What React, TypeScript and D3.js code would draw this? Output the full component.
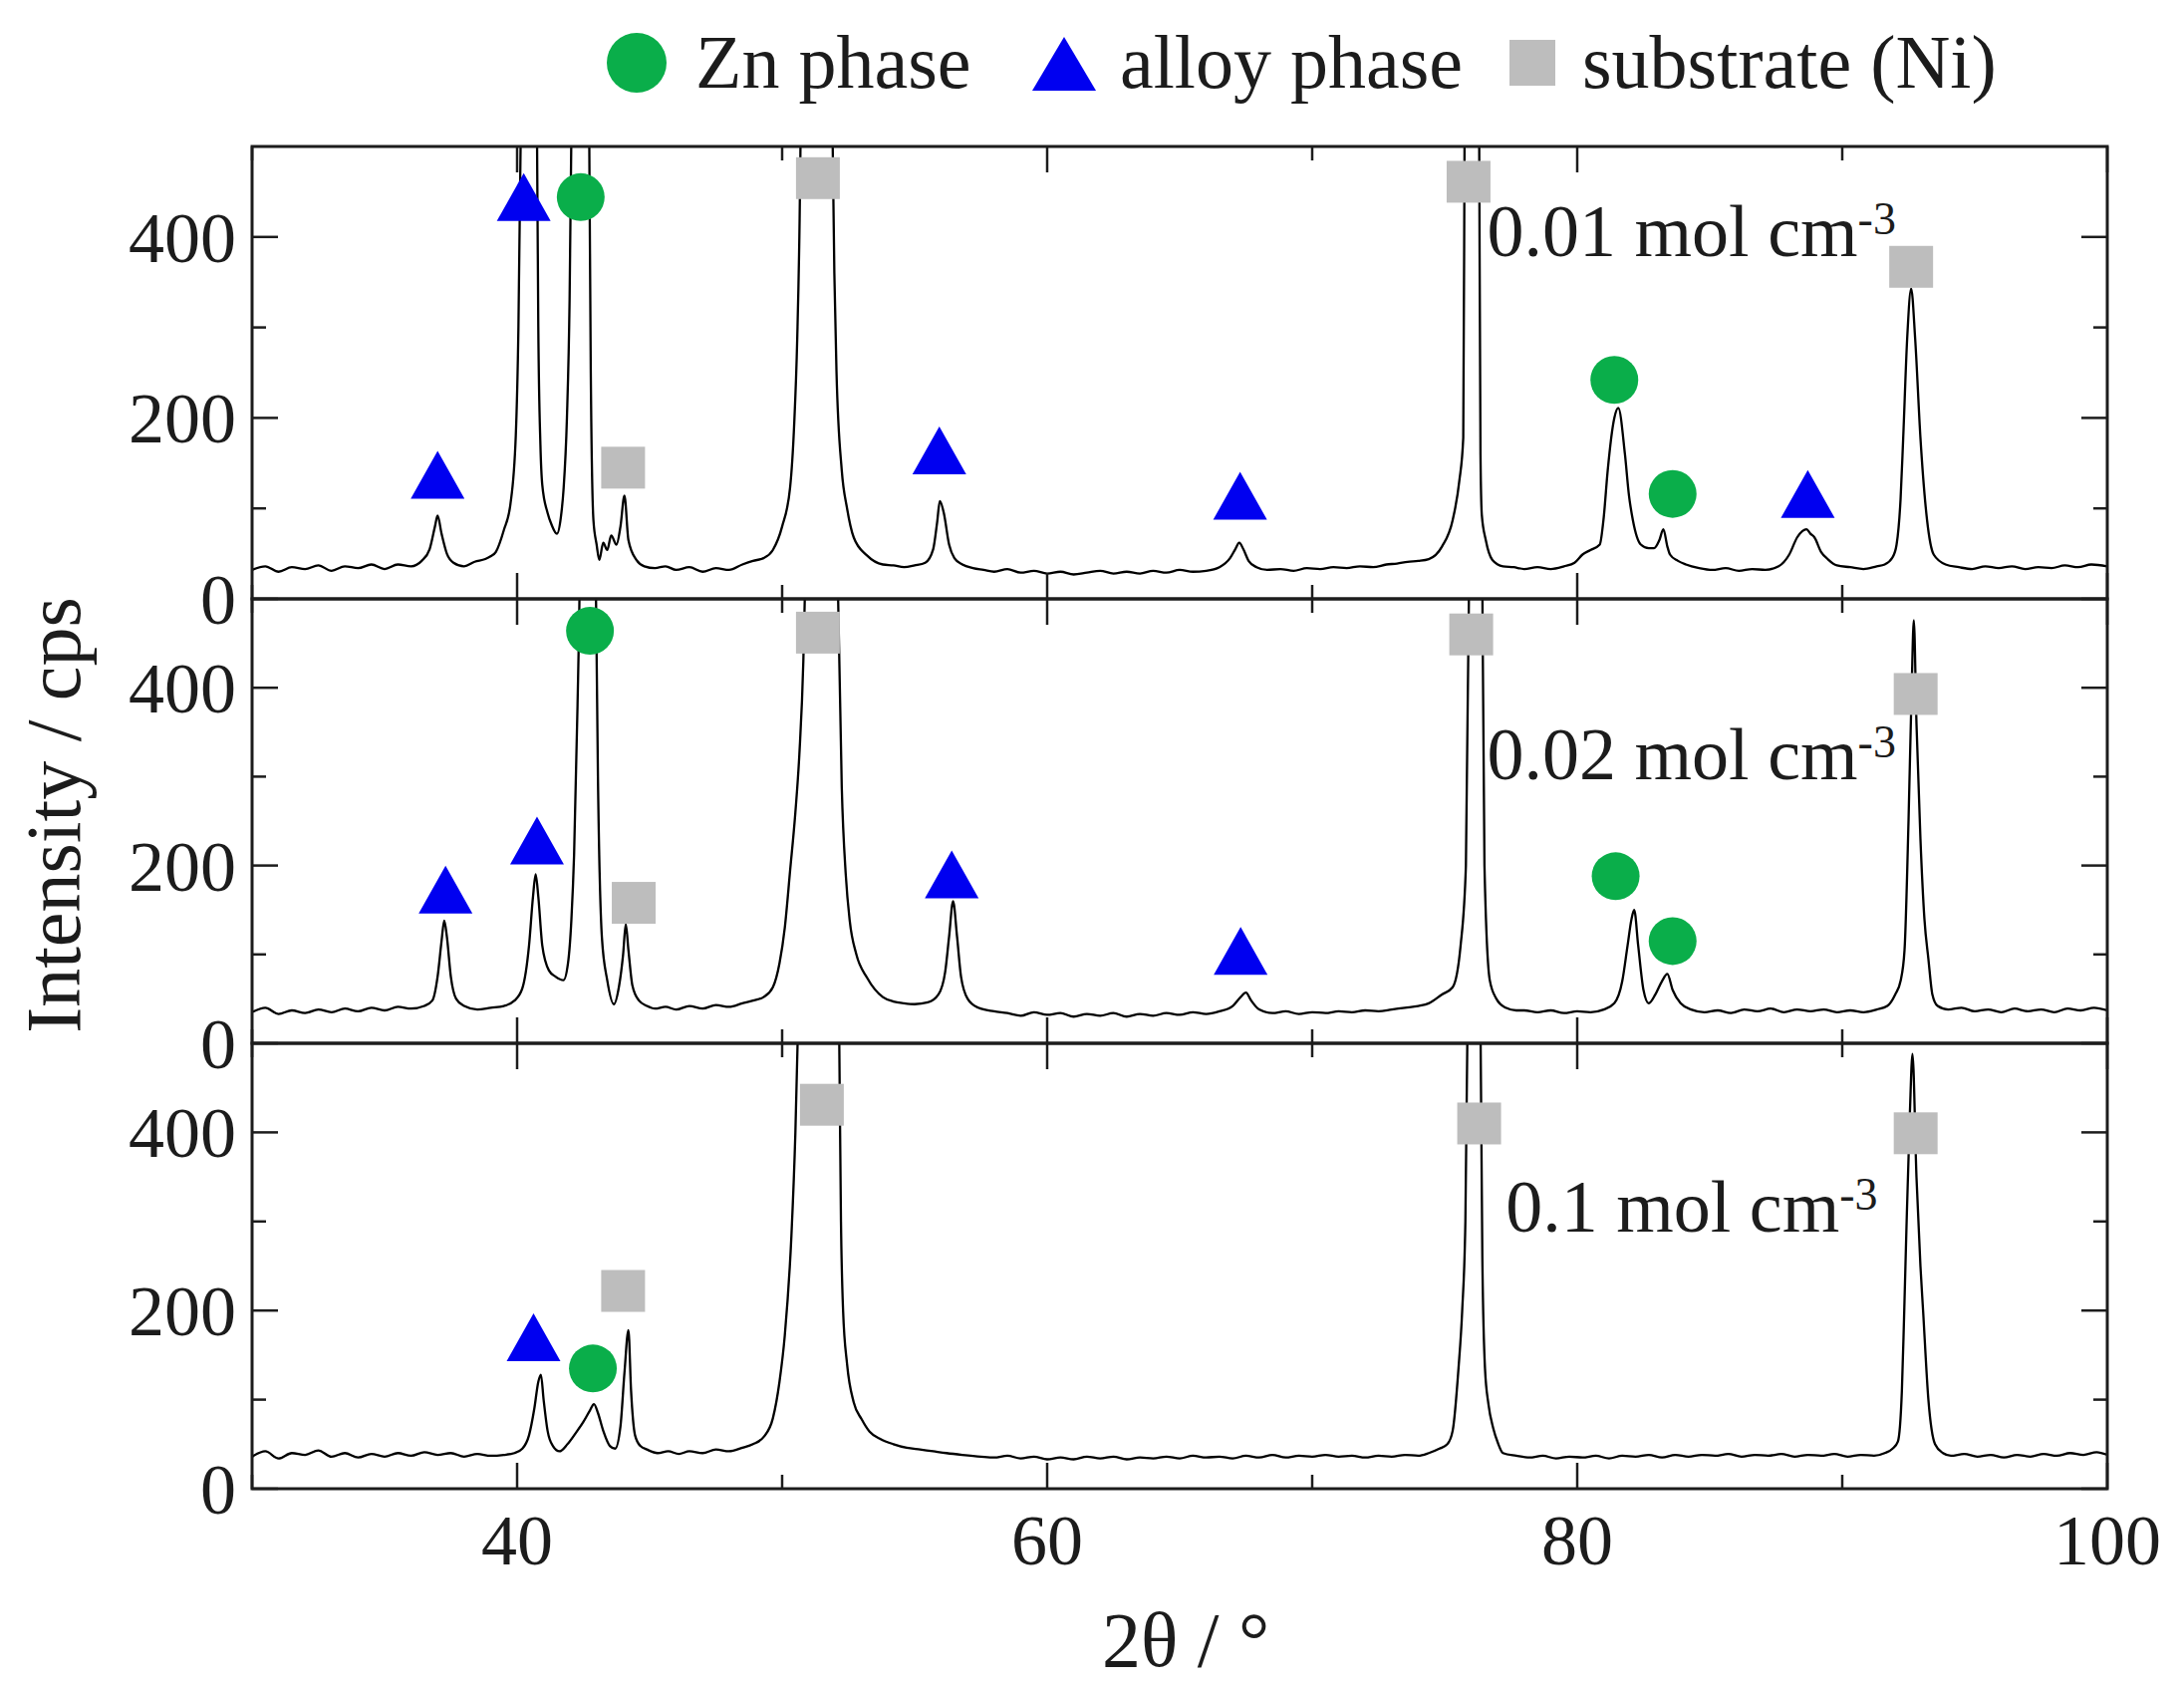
import * as d3 from 'd3';

type Pt = [number, number];

// ---- values (2θ in degrees, intensity in cps) ----
const thetaTicks = [40, 60, 80, 100];
const thetaMinorTicks = [30, 50, 70, 90];
const cpsTicks = [0, 200, 400];
const cpsMinorTicks = [100, 300];
const concentrations = ['0.01', '0.02', '0.1'];
const legendItems = ['Zn phase', 'alloy phase', 'substrate (Ni)'];

// 0.01 mol cm-3 pattern (off-scale peak tops set above 500 and clipped)
const trace001: Pt[] = [
  [30, 32], [30.5, 36], [31, 30], [31.5, 35], [32, 33], [32.5, 37], [33, 31], [33.5, 36], [34, 34], [34.5, 38],
  [35, 33], [35.5, 38], [36, 36], [36.4, 42], [36.7, 55], [36.9, 80], [37.0, 92], [37.15, 72], [37.35, 50], [37.6, 40],
  [38, 36], [38.4, 41], [38.8, 44], [39.0, 47], [39.2, 52], [39.5, 76], [39.75, 105], [39.95, 180], [40.05, 300], [40.14, 520],
  [40.45, 2500], [40.75, 520], [40.8, 300], [40.88, 170], [40.95, 126], [41.15, 95], [41.3, 82], [41.5, 72], [41.65, 90], [41.75, 120],
  [41.88, 200], [41.98, 330], [42.05, 520], [42.4, 2500], [42.72, 520], [42.78, 250], [42.88, 87], [43.0, 60], [43.1, 43], [43.25, 62],
  [43.4, 54], [43.55, 70], [43.75, 60], [43.9, 80], [44.05, 114], [44.2, 65], [44.5, 43], [44.8, 36], [45.2, 34], [45.6, 36],
  [46, 32], [46.5, 35], [47, 30], [47.5, 34], [48, 32], [48.5, 38], [48.9, 42], [49.3, 45], [49.65, 54], [50.0, 80],
  [50.3, 123], [50.45, 190], [50.57, 288], [50.66, 420], [50.7, 520], [51.3, 2500], [51.9, 520], [51.97, 360], [52.05, 252], [52.25, 142],
  [52.45, 100], [52.7, 68], [53.2, 48], [53.8, 38], [54.2, 37], [54.6, 35], [55.0, 37], [55.4, 40], [55.7, 55], [55.85, 85],
  [55.95, 108], [56.1, 95], [56.3, 60], [56.5, 45], [56.8, 38], [57.2, 34], [57.6, 32], [58, 30], [58.5, 33], [59, 29],
  [59.5, 31], [60, 28], [60.5, 30], [61, 27], [61.5, 29], [62, 31], [62.5, 28], [63, 30], [63.5, 28], [64, 31],
  [64.5, 29], [65, 32], [65.5, 30], [66, 31], [66.5, 35], [66.9, 45], [67.1, 55], [67.25, 62], [67.4, 55], [67.6, 42],
  [67.9, 35], [68.3, 32], [68.8, 33], [69.3, 31], [69.8, 34], [70.3, 33], [70.8, 35], [71.3, 34], [71.8, 36], [72.3, 35],
  [72.8, 38], [73.2, 39], [73.6, 41], [74.0, 42], [74.4, 44], [74.9, 58], [75.3, 87], [75.55, 130], [75.7, 178], [75.75, 520],
  [76.02, 2500], [76.3, 520], [76.35, 160], [76.4, 93], [76.55, 65], [76.8, 43], [77.2, 36], [77.6, 35], [78, 33], [78.5, 35],
  [79, 33], [79.5, 36], [79.9, 40], [80.2, 49], [80.5, 54], [80.85, 60], [81.0, 90], [81.15, 142], [81.4, 200], [81.55, 211],
  [81.8, 160], [81.95, 115], [82.1, 87], [82.4, 60], [82.7, 56], [82.9, 56], [83.1, 65], [83.25, 77], [83.4, 58], [83.5, 49],
  [83.8, 42], [84.1, 38], [84.6, 34], [85.1, 32], [85.6, 34], [86.1, 31], [86.6, 33], [87.1, 32], [87.6, 36], [88.0, 49],
  [88.3, 68], [88.5, 75], [88.65, 77], [88.8, 72], [88.95, 68], [89.2, 52], [89.45, 44], [89.8, 37], [90.3, 35], [90.8, 33],
  [91.3, 36], [91.6, 38], [91.9, 46], [92.05, 60], [92.2, 110], [92.3, 178], [92.45, 288], [92.6, 343], [92.75, 288], [92.95, 178],
  [93.2, 87], [93.45, 49], [93.9, 38], [94.4, 35], [94.9, 33], [95.4, 36], [95.9, 34], [96.4, 36], [96.9, 33], [97.4, 35],
  [97.9, 34], [98.4, 37], [98.9, 35], [99.4, 38], [100, 36],
];

// 0.02 mol cm-3 pattern
const trace002: Pt[] = [
  [30, 35], [30.5, 40], [31, 33], [31.5, 37], [32, 34], [32.5, 38], [33, 35], [33.5, 39], [34, 36], [34.5, 40],
  [35, 37], [35.5, 41], [36, 39], [36.5, 42], [36.8, 48], [37.0, 75], [37.15, 115], [37.25, 138], [37.35, 120], [37.5, 75],
  [37.7, 50], [38.0, 42], [38.5, 38], [39, 40], [39.5, 42], [39.9, 48], [40.2, 62], [40.45, 110], [40.6, 165], [40.7, 190],
  [40.8, 165], [40.95, 110], [41.2, 82], [41.45, 75], [41.75, 71], [41.92, 90], [42.05, 140], [42.15, 212], [42.28, 380], [42.36, 520],
  [42.66, 2500], [42.97, 520], [43.05, 300], [43.2, 119], [43.4, 71], [43.65, 44], [43.85, 65], [44.0, 100], [44.1, 134], [44.2, 105],
  [44.35, 65], [44.6, 48], [44.9, 42], [45.2, 39], [45.6, 41], [46, 38], [46.5, 42], [47, 39], [47.5, 43], [48, 41],
  [48.5, 45], [48.9, 48], [49.3, 52], [49.65, 63], [49.9, 90], [50.1, 130], [50.3, 194], [50.5, 260], [50.65, 325], [50.8, 430],
  [50.87, 520], [51.5, 2500], [52.1, 520], [52.25, 288], [52.4, 190], [52.55, 138], [52.8, 100], [53.2, 74], [53.8, 52], [54.2, 47],
  [54.6, 45], [55.0, 44], [55.5, 46], [55.9, 55], [56.15, 80], [56.3, 120], [56.45, 160], [56.6, 120], [56.75, 75], [57.0, 50],
  [57.4, 40], [58, 36], [58.5, 34], [59, 31], [59.5, 35], [60, 32], [60.5, 34], [61, 30], [61.5, 33], [62, 31],
  [62.5, 34], [63, 30], [63.5, 33], [64, 31], [64.5, 34], [65, 32], [65.5, 35], [66, 33], [66.5, 36], [67.0, 42],
  [67.3, 52], [67.5, 57], [67.7, 48], [68.0, 38], [68.5, 34], [69, 36], [69.5, 33], [70, 35], [70.5, 34], [71, 36],
  [71.5, 35], [72, 37], [72.5, 36], [73, 38], [73.5, 40], [74, 42], [74.4, 45], [74.9, 55], [75.3, 63], [75.6, 110],
  [75.8, 200], [75.92, 520], [76.17, 2500], [76.42, 520], [76.5, 200], [76.7, 71], [76.95, 50], [77.3, 40], [77.7, 37], [78, 37],
  [78.5, 35], [79, 37], [79.5, 34], [80, 36], [80.5, 35], [81.0, 38], [81.4, 45], [81.7, 70], [81.9, 110], [82.05, 140],
  [82.15, 150], [82.3, 110], [82.5, 60], [82.7, 45], [82.95, 55], [83.2, 70], [83.4, 78], [83.6, 60], [83.9, 45], [84.3, 38],
  [84.8, 35], [85.3, 37], [85.8, 34], [86.3, 38], [86.8, 36], [87.3, 39], [87.8, 35], [88.3, 38], [88.8, 36], [89.3, 38],
  [89.8, 35], [90.3, 37], [90.8, 35], [91.3, 38], [91.7, 42], [92.0, 55], [92.2, 70], [92.35, 105], [92.5, 250], [92.62, 400],
  [92.7, 476], [92.8, 360], [92.95, 230], [93.1, 140], [93.25, 95], [93.4, 55], [93.6, 42], [94, 38], [94.5, 40], [95, 36],
  [95.5, 38], [96, 35], [96.5, 39], [97, 36], [97.5, 38], [98, 35], [98.5, 39], [99, 37], [99.5, 40], [100, 37],
];

// 0.1 mol cm-3 pattern
const trace01: Pt[] = [
  [30, 36], [30.5, 42], [31, 34], [31.5, 40], [32, 38], [32.5, 43], [33, 36], [33.5, 40], [34, 35], [34.5, 39],
  [35, 36], [35.5, 40], [36, 37], [36.5, 41], [37, 38], [37.5, 40], [38, 36], [38.5, 39], [39, 37], [39.5, 38],
  [39.9, 40], [40.2, 45], [40.45, 60], [40.65, 90], [40.8, 120], [40.9, 128], [41.0, 100], [41.15, 65], [41.35, 48], [41.6, 42],
  [41.9, 50], [42.2, 62], [42.5, 75], [42.75, 88], [42.9, 95], [43.05, 85], [43.25, 65], [43.5, 48], [43.7, 45], [43.9, 70],
  [44.05, 130], [44.2, 178], [44.3, 110], [44.45, 60], [44.65, 48], [44.9, 44], [45.3, 40], [45.7, 42], [46.1, 39], [46.5, 42],
  [47, 40], [47.5, 44], [48, 42], [48.5, 46], [48.9, 50], [49.3, 58], [49.65, 79], [49.9, 120], [50.1, 172], [50.35, 284],
  [50.5, 400], [50.6, 520], [51.4, 2500], [52.15, 520], [52.22, 300], [52.3, 200], [52.45, 140], [52.7, 97], [53.0, 78], [53.3, 64],
  [53.7, 56], [54.2, 50], [54.7, 46], [55.2, 44], [55.7, 42], [56.2, 40], [56.8, 38], [57.5, 36], [58, 35], [58.5, 37],
  [59, 34], [59.5, 36], [60, 33], [60.5, 35], [61, 33], [61.5, 36], [62, 34], [62.5, 36], [63, 33], [63.5, 35],
  [64, 34], [64.5, 36], [65, 34], [65.5, 37], [66, 35], [66.5, 36], [67, 34], [67.5, 37], [68, 35], [68.5, 38],
  [69, 35], [69.5, 37], [70, 36], [70.5, 38], [71, 36], [71.5, 37], [72, 35], [72.5, 37], [73, 36], [73.5, 38],
  [74, 37], [74.4, 40], [74.8, 45], [75.1, 50], [75.3, 65], [75.52, 135], [75.66, 200], [75.78, 300], [75.86, 520], [76.1, 2500],
  [76.35, 520], [76.42, 260], [76.52, 135], [76.65, 95], [76.83, 68], [77.0, 52], [77.2, 40], [77.7, 37], [78.2, 35], [78.7, 37],
  [79.2, 34], [79.7, 36], [80.2, 35], [80.7, 37], [81.2, 34], [81.7, 37], [82.2, 36], [82.7, 38], [83.2, 35], [83.7, 38],
  [84.2, 36], [84.7, 38], [85.2, 37], [85.7, 39], [86.2, 36], [86.7, 38], [87.2, 37], [87.7, 39], [88.2, 36], [88.7, 38],
  [89.2, 37], [89.7, 39], [90.2, 36], [90.7, 38], [91.2, 37], [91.6, 40], [91.9, 45], [92.1, 53], [92.25, 110], [92.33, 190],
  [92.42, 290], [92.55, 420], [92.65, 488], [92.8, 350], [92.95, 250], [93.05, 200], [93.25, 100], [93.5, 50], [93.8, 40], [94.1, 37],
  [94.6, 39], [95.1, 36], [95.6, 38], [96.1, 35], [96.6, 38], [97.1, 36], [97.6, 39], [98.1, 37], [98.6, 40], [99.1, 38],
  [99.6, 41], [100, 38],
];

// phase markers [2θ, cps]
const zn001: Pt[] = [[42.4, 444], [81.4, 242], [83.6, 116]];
const alloy001: Pt[] = [[37.0, 137], [40.25, 444], [55.93, 164], [67.28, 114], [88.7, 116]];
const sub001: Pt[] = [[44.0, 145], [51.35, 465], [75.9, 461], [92.6, 367]];

const zn002: Pt[] = [[42.75, 464], [81.45, 188], [83.6, 115]];
const alloy002: Pt[] = [[37.3, 173], [40.75, 228], [56.4, 190], [67.3, 104]];
const sub002: Pt[] = [[44.4, 158], [51.35, 462], [76.0, 460], [92.77, 393]];

const zn01: Pt[] = [[42.86, 135]];
const alloy01: Pt[] = [[40.62, 170]];
const sub01: Pt[] = [[44.0, 222], [51.5, 431], [76.3, 410], [92.77, 399]];

// where each concentration label sits, in data units
const labelAnchors: Pt[] = [[76.6, 379], [76.6, 297], [77.3, 289]];

const panels = [
  { trace: trace001, zn: zn001, alloy: alloy001, sub: sub001 },
  { trace: trace002, zn: zn002, alloy: alloy002, sub: sub002 },
  { trace: trace01, zn: zn01, alloy: alloy01, sub: sub01 },
];

// ---- layout ----
const W = 2192;
const H = 1694;
const LEFT = 253;
const RIGHT = 2115;
const BANDS = [[147, 601], [601, 1047], [1047, 1494]];
const FONT = '"Liberation Serif", "Times New Roman", serif';
const INK = '#1c1c1c';
const GREEN = '#0aae4a';
const BLUE = '#0000f0';
const GREY = '#bdbdbd';

const x = d3.scaleLinear().domain([30, 100]).range([LEFT, RIGHT]);

function tri(cx: number, cy: number, w: number, h: number) {
  return `M${cx},${cy - h / 2}L${cx + w / 2},${cy + h / 2}L${cx - w / 2},${cy + h / 2}Z`;
}

function Panel({ idx }: { idx: number }) {
  const [top, bottom] = BANDS[idx];
  const p = panels[idx];
  const y = d3.scaleLinear().domain([0, 500]).range([bottom, top]);
  const line = d3
    .line<Pt>()
    .x((d) => x(d[0]))
    .y((d) => y(d[1]))
    .curve(d3.curveMonotoneX);
  const clipId = `clip-${idx}`;
  const [lx, ly] = labelAnchors[idx];
  const major = 26;
  const minor = 14;

  return (
    <g>
      <defs>
        <clipPath id={clipId}>
          <rect x={LEFT} y={top} width={RIGHT - LEFT} height={bottom - top} />
        </clipPath>
      </defs>
      <path d={line(p.trace) ?? ''} fill="none" stroke="#000" strokeWidth={2.3} strokeLinejoin="round" clipPath={`url(#${clipId})`} />

      {/* phase markers */}
      {p.sub.map((d, i) => (
        <rect key={`s${i}`} x={x(d[0]) - 22} y={y(d[1]) - 21} width={44} height={42} fill={GREY} />
      ))}
      {p.zn.map((d, i) => (
        <ellipse key={`z${i}`} cx={x(d[0])} cy={y(d[1])} rx={24} ry={24} fill={GREEN} />
      ))}
      {p.alloy.map((d, i) => (
        <path key={`a${i}`} d={tri(x(d[0]), y(d[1]), 54, 48)} fill={BLUE} />
      ))}

      {/* ticks */}
      {thetaTicks.concat(thetaMinorTicks).map((t) => {
        const len = thetaTicks.includes(t) ? major : minor;
        return (
          <g key={`xt${t}`} stroke={INK} strokeWidth={2.5}>
            <line x1={x(t)} x2={x(t)} y1={bottom} y2={bottom - len} />
            <line x1={x(t)} x2={x(t)} y1={top} y2={top + len} />
          </g>
        );
      })}
      {cpsTicks.concat(cpsMinorTicks).map((t) => {
        const len = cpsTicks.includes(t) ? major : minor;
        return (
          <g key={`yt${t}`} stroke={INK} strokeWidth={2.5}>
            <line x1={LEFT} x2={LEFT + len} y1={y(t)} y2={y(t)} />
            <line x1={RIGHT} x2={RIGHT - len} y1={y(t)} y2={y(t)} />
          </g>
        );
      })}
      {cpsTicks.map((t) => (
        <text
          key={`yl${t}`}
          x={LEFT - 16}
          y={y(t) + 25}
          textAnchor="end"
          fontFamily={FONT}
          fontSize={72}
          fill={INK}
        >
          {t}
        </text>
      ))}

      <rect x={LEFT} y={top} width={RIGHT - LEFT} height={bottom - top} fill="none" stroke={INK} strokeWidth={3} />

      <text x={x(lx)} y={y(ly)} fontFamily={FONT} fontSize={74} fill={INK}>
        {concentrations[idx]} mol cm
        <tspan fontSize={46} dy={-22}>
          -3
        </tspan>
      </text>
    </g>
  );
}

export default function App() {
  const bottom = BANDS[2][1];
  return (
    <svg
      width={W}
      height={H}
      viewBox={`0 0 ${W} ${H}`}
      style={{ position: 'absolute', left: 0, top: 0, background: '#fff' }}
    >
      <rect x={0} y={0} width={W} height={H} fill="#fff" />

      {/* legend */}
      <g fontFamily={FONT} fontSize={76} fill={INK}>
        <ellipse cx={639} cy={63} rx={30} ry={30} fill={GREEN} />
        <text x={698} y={88}>{legendItems[0]}</text>
        <path d={tri(1068, 64, 64, 54)} fill={BLUE} />
        <text x={1124} y={88}>{legendItems[1]}</text>
        <rect x={1515} y={40} width={46} height={46} fill={GREY} />
        <text x={1588} y={88}>{legendItems[2]}</text>
      </g>

      {[0, 1, 2].map((i) => (
        <Panel key={i} idx={i} />
      ))}

      {thetaTicks.map((t) => (
        <text
          key={`xl${t}`}
          x={x(t)}
          y={bottom + 76}
          textAnchor="middle"
          fontFamily={FONT}
          fontSize={72}
          fill={INK}
        >
          {t}
        </text>
      ))}

      <text x={1190} y={1672} textAnchor="middle" fontFamily={FONT} fontSize={78} fill={INK}>
        2θ / °
      </text>
      <text
        transform="translate(80,818) rotate(-90)"
        textAnchor="middle"
        fontFamily={FONT}
        fontSize={78}
        fill={INK}
      >
        Intensity / cps
      </text>
    </svg>
  );
}
